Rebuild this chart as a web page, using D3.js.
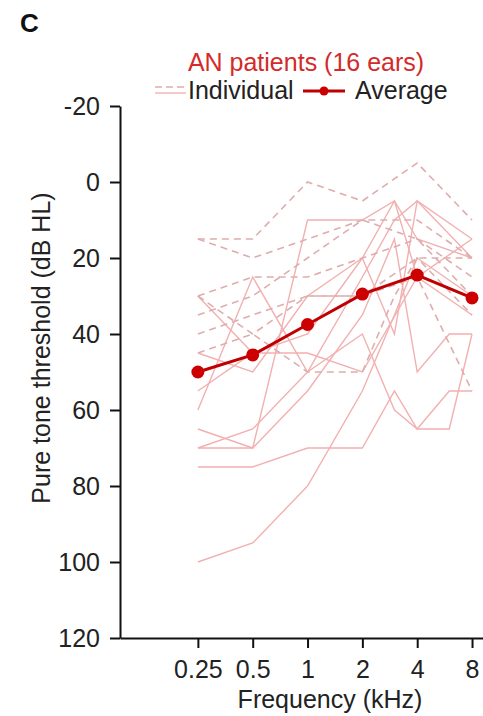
<!DOCTYPE html>
<html>
<head>
<meta charset="utf-8">
<script src="https://cdn.jsdelivr.net/npm/d3@7"></script>
<style>
  html, body { margin: 0; padding: 0; background: #fff; }
  svg { display: block; font-family: Arial, "Liberation Sans", Helvetica, sans-serif; }
</style>
</head>
<body>
<svg id="chart" width="483" height="716"></svg>
<script>
// ---- data ----
const freqs = [0.25, 0.5, 1, 2, 3, 4, 6, 8];
const tickFreqs = [0.25, 0.5, 1, 2, 4, 8];
const tickLabels = ["0.25", "0.5", "1", "2", "4", "8"];
const yTicks = [-20, 0, 20, 40, 60, 80, 100, 120];

const avgFreqs = [0.25, 0.5, 1, 2, 4, 8];
const avgValues = [50, 45.5, 37.5, 29.5, 24.5, 30.5];

// individual ears (null = not measured), values aligned to freqs
const dashedEars = [
  [15, 15, 0, 5, null, -5, null, 10],
  [15, 20, 15, 10, null, 10, null, 20],
  [30, 25, 25, 20, null, 15, null, 25],
  [35, 30, 20, 10, null, 15, null, 30],
  [40, 35, 30, 30, null, 20, null, 20],
  [45, 40, 50, 50, 30, 20, null, 35],
  [30, 40, 30, 30, null, 25, null, 55]
];
const solidEars = [
  [30, 45, 45, 50, null, 25, null, 15],
  [60, 25, 50, 25, 10, 5, null, 15],
  [65, 70, 10, 10, 5, 15, null, 20],
  [70, 65, 50, 40, 60, 65, 65, 40],
  [70, 70, 55, 35, 15, 50, 40, 40],
  [75, 75, 70, 70, 55, 65, 55, 55],
  [100, 95, 80, 55, 35, 20, null, 30],
  [55, 45, 40, 20, 5, 25, null, 35],
  [45, 50, 30, 20, 40, 5, null, 20]
];

// ---- chart ----
const svg = d3.select("#chart");
const font = 25;
const x = d3.scaleLog().domain([0.0934, 9.19]).range([120, 483]);
const y = d3.scaleLinear().domain([-20, 120]).range([106, 638]);

const toPts = vals => freqs.map((f, i) => [f, vals[i]]).filter(p => p[1] !== null);
const line = d3.line().x(d => x(d[0])).y(d => y(d[1]));

// individual lines
svg.append("g").selectAll("path").data(solidEars).join("path")
  .attr("d", d => line(toPts(d)))
  .attr("fill", "none").attr("stroke", "#f2b0b0").attr("stroke-width", 1.4);
svg.append("g").selectAll("path").data(dashedEars).join("path")
  .attr("d", d => line(toPts(d)))
  .attr("fill", "none").attr("stroke", "#dfadad").attr("stroke-width", 1.6)
  .attr("stroke-dasharray", "7,5");

// average
const avgPts = avgFreqs.map((f, i) => [f, avgValues[i]]);
svg.append("path").attr("d", line(avgPts))
  .attr("fill", "none").attr("stroke", "#c00000").attr("stroke-width", 3);
svg.append("g").selectAll("circle").data(avgPts).join("circle")
  .attr("cx", d => x(d[0])).attr("cy", d => y(d[1])).attr("r", 6.5)
  .attr("fill", "#cc0000");

// axes
const yAxis = svg.append("g").attr("transform", "translate(120,0)")
  .call(d3.axisLeft(y).tickValues(yTicks).tickFormat(d => String(d))
    .tickSize(10).tickSizeOuter(0).tickPadding(10));
const xAxis = svg.append("g").attr("transform", "translate(0,638)")
  .call(d3.axisBottom(x).tickValues(tickFreqs).tickFormat((d, i) => tickLabels[i])
    .tickSize(10).tickSizeOuter(0).tickPadding(12));
[yAxis, xAxis].forEach(g => {
  g.selectAll("path, line").attr("stroke", "#111").attr("stroke-width", 2);
  g.selectAll("text").attr("font-size", font).attr("fill", "#222")
    .attr("font-family", "Arial, 'Liberation Sans', sans-serif");
});

// axis titles
svg.append("text").attr("x", 330).attr("y", 708).attr("text-anchor", "middle")
  .attr("font-size", font).attr("fill", "#222").text("Frequency (kHz)");
svg.append("text").attr("transform", "translate(41,348) rotate(-90)")
  .attr("text-anchor", "middle").attr("dominant-baseline", "central")
  .attr("font-size", font).attr("fill", "#222").text("Pure tone threshold (dB HL)");

// panel letter
svg.append("text").attr("x", 20).attr("y", 32).attr("font-size", 26)
  .attr("font-weight", "bold").attr("fill", "#111").text("C");

// title & legend
svg.append("text").attr("x", 306).attr("y", 71).attr("text-anchor", "middle")
  .attr("font-size", font).attr("fill", "#d42a2a").text("AN patients (16 ears)");
svg.append("line").attr("x1", 155).attr("x2", 186).attr("y1", 87).attr("y2", 87)
  .attr("stroke", "#dfadad").attr("stroke-width", 1.6).attr("stroke-dasharray", "7,4");
svg.append("line").attr("x1", 155).attr("x2", 186).attr("y1", 93).attr("y2", 93)
  .attr("stroke", "#f2b0b0").attr("stroke-width", 1.4);
svg.append("text").attr("x", 188).attr("y", 99)
  .attr("font-size", font).attr("fill", "#222").text("Individual");
svg.append("line").attr("x1", 303).attr("x2", 345).attr("y1", 91).attr("y2", 91)
  .attr("stroke", "#c00000").attr("stroke-width", 3);
svg.append("circle").attr("cx", 324).attr("cy", 91).attr("r", 4.5).attr("fill", "#cc0000");
svg.append("text").attr("x", 355).attr("y", 99)
  .attr("font-size", font).attr("fill", "#222").text("Average");
</script>
</body>
</html>
